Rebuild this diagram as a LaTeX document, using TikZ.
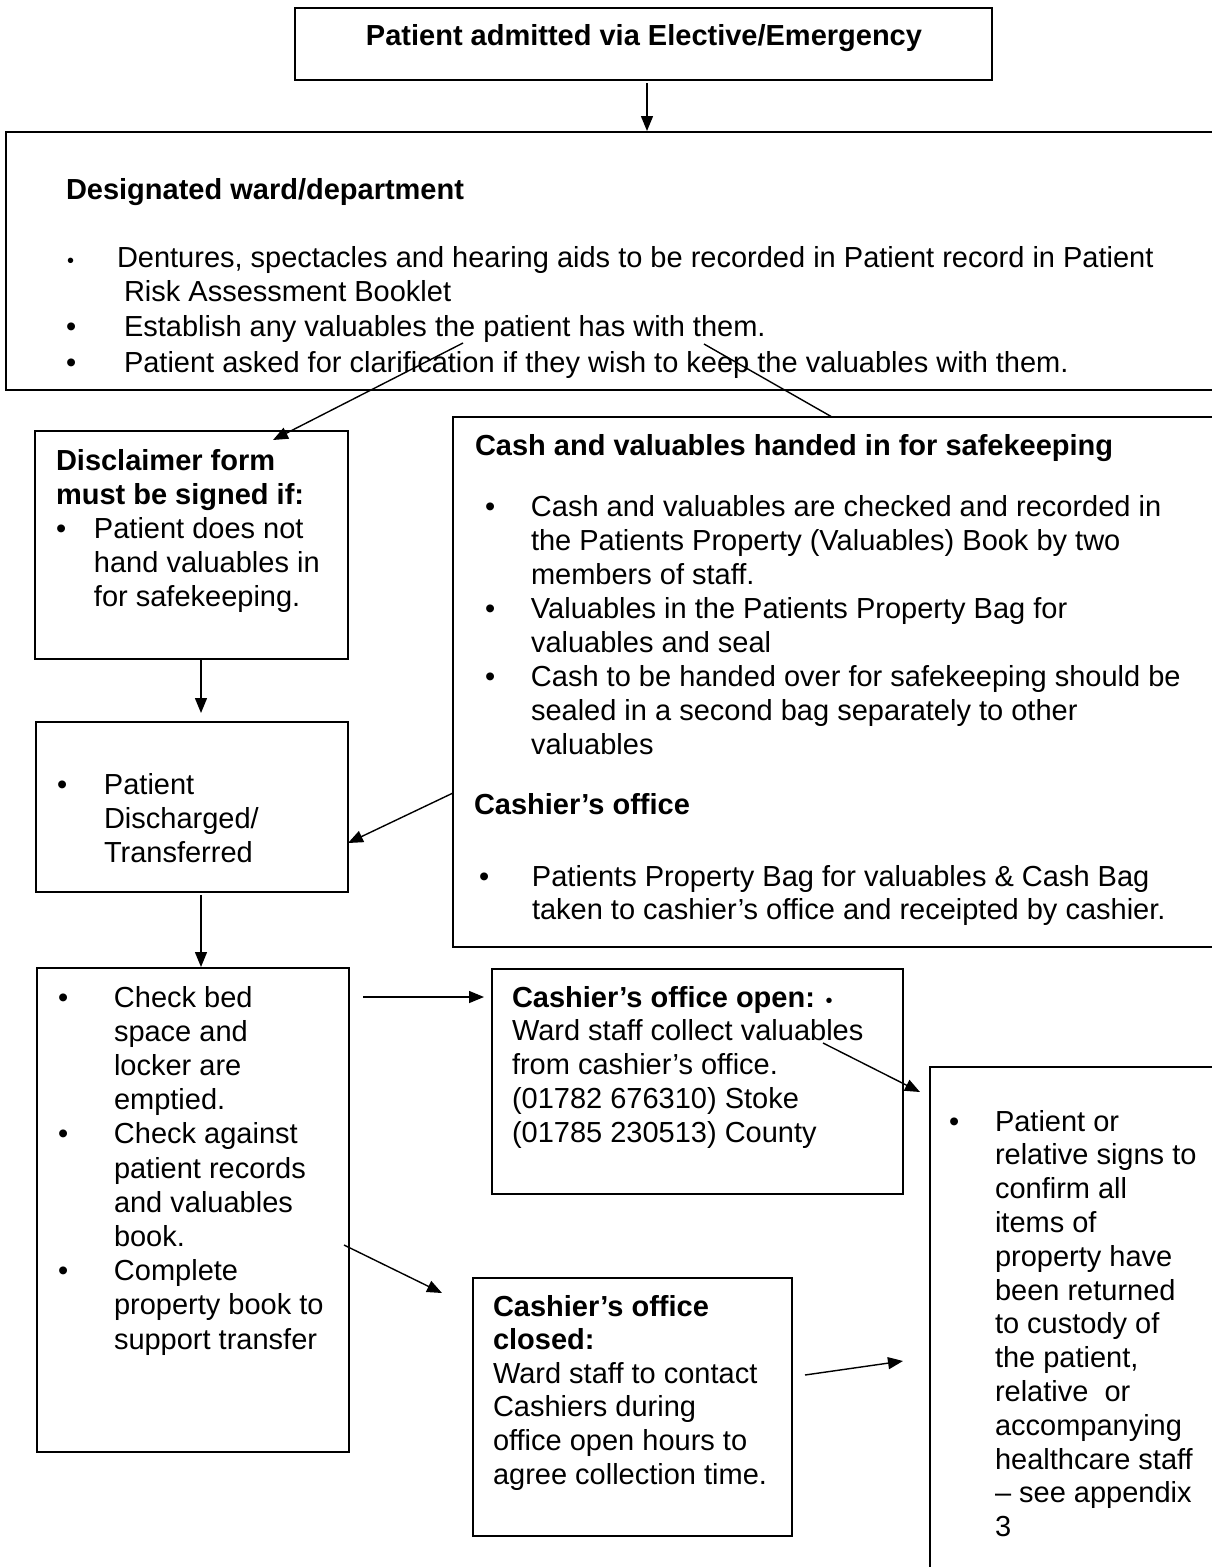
\documentclass[tikz,border=0pt]{standalone}
\usepackage{fontspec}
\setmainfont{Liberation Sans}
\usetikzlibrary{arrows.meta}
\newcommand\fsz[1]{\fontsize{29}{#1}\selectfont}
\newcommand\smallbul{{\fontsize{20}{20}\selectfont\textbullet}}
\begin{document}
\begin{tikzpicture}[x=1pt,y=-1pt,
  box/.style={draw, line width=1.8pt, fill=white, anchor=north west, inner sep=0pt, outer sep=0pt},
  txt/.style={anchor=base west, inner sep=0pt, outer sep=0pt, font=\fsz{34}},
  arr/.style={line width=1.4pt, -{Triangle[length=15pt,width=12pt]}},
  con/.style={line width=1.4pt}]
\useasboundingbox (0,0) rectangle (1212,1567);
\clip (0,0) rectangle (1212,1567);
\fill[white] (0,0) rectangle (1212,1567);

% boxes
\node[box, minimum width=697pt, minimum height=72pt] (title) at (295,8) {};
\node[box, minimum width=1240pt, minimum height=258pt] (big) at (6,132) {};
\node[box, minimum width=313pt, minimum height=228pt] (disc) at (35,431) {};
\node[box, minimum width=312pt, minimum height=170pt] (dis) at (36,722) {};
\node[box, minimum width=800pt, minimum height=530pt] (cash) at (453,417) {};
\node[box, minimum width=312pt, minimum height=484pt] (check) at (37,968) {};
\node[box, minimum width=411pt, minimum height=225pt] (open) at (492,969) {};
\node[box, minimum width=319pt, minimum height=258pt] (closed) at (473,1278) {};
\node[box, minimum width=320pt, minimum height=560pt] (right) at (930,1067) {};

% title
\node[txt, anchor=base, font=\fsz{34}\bfseries] (titletext) at (644,45) {Patient admitted via Elective/Emergency};

% designated ward
\node[txt, font=\fsz{34}\bfseries] (bighead) at (66,199) {Designated ward/department};
\node[txt, font=\fontsize{20}{20}\selectfont] (bigb1) at (67,267) {\textbullet};
\node[txt] (bigt1) at (117,267) {Dentures, spectacles and hearing aids to be recorded in Patient record in Patient};
\node[txt] (bigt2) at (124,301) {Risk Assessment Booklet};
\node[txt] (bigb2) at (66,336) {\textbullet};
\node[txt] (bigt3) at (124,336) {Establish any valuables the patient has with them.};
\node[txt] (bigb3) at (66,372) {\textbullet};
\node[txt] (bigt4) at (124,372) {Patient asked for clarification if they wish to keep the valuables with them.};

% disclaimer
\node[txt] (disctext) at (56,470) {\begin{tabular}[t]{@{}p{38pt}@{}l@{}}
\multicolumn{2}{@{}l@{}}{\bfseries Disclaimer form}\\
\multicolumn{2}{@{}l@{}}{\bfseries must be signed if:}\\
\textbullet & Patient does not\\
 & hand valuables in\\
 & for safekeeping.
\end{tabular}};

% discharged
\node[txt] (distext) at (57,794) {\begin{tabular}[t]{@{}p{47pt}@{}l@{}}
\textbullet & Patient\\
 & Discharged/\\
 & Transferred
\end{tabular}};

% cash and valuables
\node[txt, font=\fsz{34}\bfseries] (cashhead) at (475,455) {Cash and valuables handed in for safekeeping};
\node[txt] (cashlist) at (485,516) {\begin{tabular}[t]{@{}p{46pt}@{}l@{}}
\textbullet & Cash and valuables are checked and recorded in\\
 & the Patients Property (Valuables) Book by two\\
 & members of staff.\\
\textbullet & Valuables in the Patients Property Bag for\\
 & valuables and seal\\
\textbullet & Cash to be handed over for safekeeping should be\\
 & sealed in a second bag separately to other\\
 & valuables
\end{tabular}};
\node[txt, font=\fsz{34}\bfseries] (cashoff) at (474,814) {Cashier’s office};
\node[txt, font=\fsz{33}] (cashofflist) at (479,886) {\begin{tabular}[t]{@{}p{53pt}@{}l@{}}
\textbullet & Patients Property Bag for valuables \& Cash Bag\\
 & taken to cashier’s office and receipted by cashier.
\end{tabular}};

% check bed space
\node[txt, font=\fsz{34.2}] (checktext) at (58,1007) {\begin{tabular}[t]{@{}p{56pt}@{}l@{}}
\textbullet & Check bed\\
 & space and\\
 & locker are\\
 & emptied.\\
\textbullet & Check against\\
 & patient records\\
 & and valuables\\
 & book.\\
\textbullet & Complete\\
 & property book to\\
 & support transfer
\end{tabular}};

% cashier open
\node[txt, font=\fsz{33.8}] (opentext) at (512,1007) {\begin{tabular}[t]{@{}l@{}}
\textbf{Cashier’s office open:} \smallbul\\
Ward staff collect valuables\\
from cashier’s office.\\
(01782 676310) Stoke\\
(01785 230513) County
\end{tabular}};

% cashier closed
\node[txt, font=\fsz{33.6}] (closedtext) at (493,1316) {\begin{tabular}[t]{@{}l@{}}
\textbf{Cashier’s office}\\
\textbf{closed:}\\
Ward staff to contact\\
Cashiers during\\
office open hours to\\
agree collection time.
\end{tabular}};

% right box
\node[txt, font=\fsz{33.8}] (righttext) at (949,1131) {\begin{tabular}[t]{@{}p{46pt}@{}l@{}}
\textbullet & Patient or\\
 & relative signs to\\
 & confirm all\\
 & items of\\
 & property have\\
 & been returned\\
 & to custody of\\
 & the patient,\\
 & relative~ or\\
 & accompanying\\
 & healthcare staff\\
 & – see appendix\\
 & 3
\end{tabular}};

% connector end points
\coordinate (a1s) at (647,83);   \coordinate (a1e) at (647,131);
\coordinate (a2s) at (463,343);  \coordinate (a2e) at (273,440);
\coordinate (a3s) at (704,344);  \coordinate (a3e) at (832,417);
\coordinate (a4s) at (201,660);  \coordinate (a4e) at (201,713);
\coordinate (a5s) at (453,793);  \coordinate (a5e) at (348,843);
\coordinate (a6s) at (201,895);  \coordinate (a6e) at (201,967);
\coordinate (a7s) at (363,997);  \coordinate (a7e) at (484,997);
\coordinate (a8s) at (823,1043); \coordinate (a8e) at (920,1092);
\coordinate (a9s) at (344,1245); \coordinate (a9e) at (442,1293);
\coordinate (a10s) at (805,1375); \coordinate (a10e) at (903,1361);

\draw[arr] (a1s) -- (a1e);
\draw[arr] (a2s) -- (a2e);
\draw[con] (a3s) -- (a3e);
\draw[arr] (a4s) -- (a4e);
\draw[arr] (a5s) -- (a5e);
\draw[arr] (a6s) -- (a6e);
\draw[arr] (a7s) -- (a7e);
\draw[arr] (a8s) -- (a8e);
\draw[arr] (a9s) -- (a9e);
\draw[arr] (a10s) -- (a10e);
\end{tikzpicture}
\end{document}
